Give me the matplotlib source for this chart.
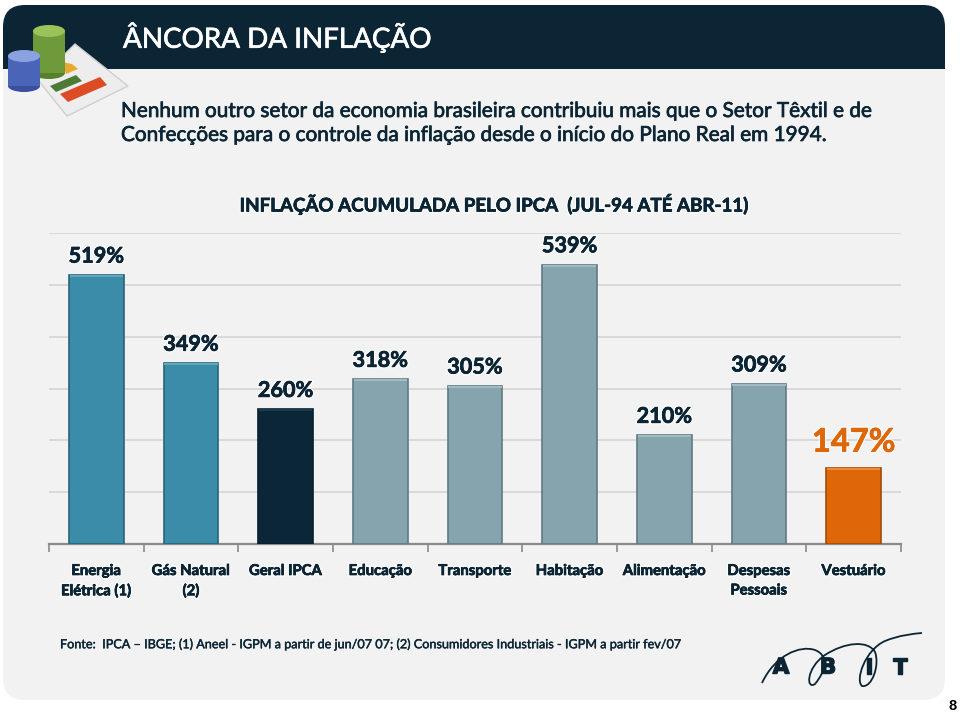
# -*- coding: utf-8 -*-
#- Inflacao acumulada pelo IPCA, slide ABIT
import matplotlib
matplotlib.use('Agg')
import matplotlib.pyplot as plt
import matplotlib.patheffects as pe
from matplotlib.patches import FancyBboxPatch, Rectangle, Polygon, Ellipse, PathPatch
from matplotlib.path import Path

plt.rcParams['font.family'] = ['Lato', 'DejaVu Sans']

#- datos
categorias = ['Energia\nElétrica (1)', 'Gás Natural\n(2)', 'Geral IPCA', 'Educação', 'Transporte',
              'Habitação', 'Alimentação', 'Despesas\nPessoais', 'Vestuário']
valores = [519, 349, 260, 318, 305, 539, 210, 309, 147]
etiquetas = ['519%', '349%', '260%', '318%', '305%', '539%', '210%', '309%', '147%']
colores = ['#3A8CA8', '#3A8CA8', '#0B2637', '#86A4AE', '#86A4AE', '#86A4AE', '#86A4AE', '#86A4AE', '#DE6709']
bordes = ['#2A6478', '#2A6478', '#07202F', '#5F7A84', '#5F7A84', '#5F7A84', '#5F7A84', '#5F7A84', '#A34C08']
ticks_y = [0, 100, 200, 300, 400, 500, 600]

oscuro = '#0B2535'
W, H = 960, 714

fig = plt.figure(figsize=(W / 100, H / 100), dpi=100, facecolor='white')

#- capa de fondo en pixeles
fondo = fig.add_axes([0, 0, 1, 1], zorder=0)
fondo.set_xlim(0, W)
fondo.set_ylim(H, 0)
fondo.axis('off')

panel = FancyBboxPatch((3, 5), 942, 695, boxstyle='round,pad=0,rounding_size=22', fc='#F2F2F2', ec='none')
fondo.add_patch(panel)
cabecera = FancyBboxPatch((3, 5), 942, 120, boxstyle='round,pad=0,rounding_size=22', fc=oscuro, ec='none')
fondo.add_patch(cabecera)
fondo.add_patch(Rectangle((3, 69), 942, 60, fc='#F2F2F2', ec='none'))

#- grafico
ax = fig.add_axes([49 / W, 1 - 544 / H, (901 - 49) / W, (544 - 233) / H], zorder=2)
ax.patch.set_alpha(0)
x = range(len(valores))
ax.bar(x, valores, width=0.58, color=colores, edgecolor=bordes, linewidth=1.2, zorder=3)
#- bisel superior de las barras
ax.bar(x, [4] * len(valores), bottom=[v - 4 for v in valores], width=0.56,
       color=['#5FA6BE', '#5FA6BE', '#1C3A4C', '#A2BAC2', '#A2BAC2', '#A2BAC2', '#A2BAC2', '#A2BAC2', '#EE8A33'],
       linewidth=0, zorder=4)
ax.set_xlim(-0.5, 8.5)
ax.set_ylim(0, 600)
ax.set_yticks(ticks_y)
ax.set_yticklabels([])
ax.yaxis.set_tick_params(length=0)
ax.grid(axis='y', color='#D2D2D2', lw=1.1, zorder=1)
ax.set_axisbelow(True)
ax.set_xticks([i - 0.5 for i in range(10)])
ax.set_xticklabels([])
ax.tick_params(axis='x', length=6, width=1.2, color='#8A8A8A', direction='out')
for lado in ['top', 'left', 'right']:
    ax.spines[lado].set_visible(False)
ax.spines['bottom'].set_color('#8A8A8A')
ax.spines['bottom'].set_linewidth(1.6)


def efecto(color):
    #- halo claro y trazo para engordar la letra
    return [pe.withStroke(linewidth=2.4, foreground='#FFFFFF', alpha=0.7),
            pe.withStroke(linewidth=0.5, foreground=color)]


grueso = [pe.withStroke(linewidth=0.5, foreground=oscuro)]
for i, v in enumerate(valores):
    ult = i == len(valores) - 1
    col = '#DE6709' if ult else oscuro
    ax.annotate(etiquetas[i], (i, v), xytext=(0, 8 if ult else 6), textcoords='offset points', ha='center', va='bottom',
                fontsize=23.5 if ult else 15.6, fontweight='bold', color=col,
                path_effects=efecto(col), zorder=5)

#- capa de textos
capa = fig.add_axes([0, 0, 1, 1], zorder=3)
capa.set_xlim(0, W)
capa.set_ylim(H, 0)
capa.axis('off')

for i, c in enumerate(categorias):
    capa.text(49 + (i + 0.5) * (852 / 9), 564, c, ha='center', va='top', fontsize=10.7, fontweight='bold',
              color=oscuro, linespacing=1.5, path_effects=efecto(oscuro))

capa.text(123, 37, 'ÂNCORA DA INFLAÇÃO', color='white', fontsize=20, va='center', ha='left',
          path_effects=[pe.withStroke(linewidth=0.5, foreground='white')])
capa.text(121, 123, 'Nenhum outro setor da economia brasileira contribuiu mais que o Setor Têxtil e de\n'
          'Confecções para o controle da inflação desde o início do Plano Real em 1994.',
          color=oscuro, fontsize=14.95, va='center', ha='left', linespacing=1.25, path_effects=grueso)
capa.text(494, 204, 'INFLAÇÃO ACUMULADA PELO IPCA  (JUL-94 ATÉ ABR-11)', color=oscuro, fontsize=13.5,
          fontweight='bold', ha='center', va='center', path_effects=efecto(oscuro))
capa.text(60, 644, 'Fonte:  IPCA – IBGE; (1) Aneel - IGPM a partir de jun/07 07; (2) Consumidores Industriais - IGPM a partir fev/07',
          color=oscuro, fontsize=9.1, ha='left', va='center', path_effects=[pe.withStroke(linewidth=0.3, foreground=oscuro)])
capa.text(953, 706, '8', color='black', fontsize=10.5, fontweight='bold', ha='center', va='center',
          family='Liberation Sans')

#- icono
capa.add_patch(Polygon([(75, 44), (128, 86), (67, 116), (38, 80)], fc='#EDEDED', ec='#CFCFCF', lw=1))
capa.add_patch(Polygon([(62, 62), (72, 64), (78, 69), (66, 74)], fc='#E8A92E', ec='none'))
capa.add_patch(Polygon([(50, 86), (76, 75), (82, 81), (56, 92)], fc='#4E7A35', ec='none'))
capa.add_patch(Polygon([(60, 94), (100, 77), (107, 85), (68, 102)], fc='#DD4B24', ec='none'))


def cilindro(x0, x1, y0, y1, c_lado, c_tapa, c_base):
    cx = (x0 + x1) / 2
    capa.add_patch(Ellipse((cx, y1), x1 - x0, 12, fc=c_base, ec='none'))
    capa.add_patch(Rectangle((x0, y0), x1 - x0, y1 - y0, fc=c_lado, ec='none'))
    capa.add_patch(Ellipse((cx, y0), x1 - x0, 12, fc=c_tapa, ec='none'))


cilindro(33, 65, 31, 73, '#6F9A3C', '#9CC25A', '#56802C')
cilindro(8, 40, 56, 86, '#4A64B8', '#8CA2E0', '#3A4FA0')

#- logo
colr = '#0B2535'
for letra, xl in zip(['A', 'B', 'I', 'T'], [781, 828, 869, 900]):
    capa.text(xl, 667.5, letra, color=colr, fontsize=15.5, fontweight='bold', ha='center', va='center',
              family='DejaVu Sans', path_effects=[pe.withStroke(linewidth=1.0, foreground=colr)])
traza = [(762, 683), (775, 655), (800, 645), (815, 650),
         (830, 656), (825, 672), (815, 684),
         (806, 690), (806, 668), (825, 655),
         (845, 642), (868, 640), (875, 652),
         (880, 665), (872, 688), (862, 686),
         (855, 680), (865, 650), (885, 641),
         (900, 635), (912, 634), (922, 633)]
codigos = [Path.MOVETO] + [Path.CURVE4] * (len(traza) - 1)
capa.add_patch(PathPatch(Path(traza, codigos), fc='none', ec=colr, lw=1.3))

plt.savefig('out.png', dpi=100)
plt.close()
